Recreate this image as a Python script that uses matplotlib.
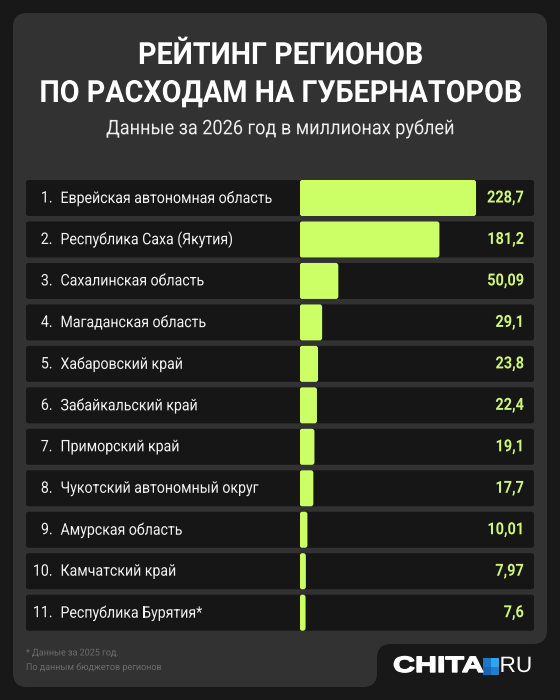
import matplotlib
matplotlib.use("Agg")
import matplotlib.pyplot as plt
from matplotlib.patches import FancyBboxPatch, PathPatch, Rectangle
from matplotlib.path import Path
from matplotlib.patheffects import AbstractPathEffect
from matplotlib.transforms import Affine2D

regions = ["Еврейская автономная область", "Республика Саха (Якутия)", "Сахалинская область",
           "Магаданская область", "Хабаровский край", "Забайкальский край", "Приморский край",
           "Чукотский автономный округ", "Амурская область", "Камчатский край", "Республика Бурятия*"]
values = [228.7, 181.2, 50.09, 29.1, 23.8, 22.4, 19.1, 17.7, 10.01, 7.97, 7.6]
value_labels = ["228,7", "181,2", "50,09", "29,1", "23,8", "22,4", "19,1", "17,7", "10,01", "7,97", "7,6"]

FONT = ['Roboto', 'DejaVu Sans']
LOGO = ['Liberation Sans', 'DejaVu Sans']
BG, PANEL, ROW, BAR, VAL = '#181818', '#323232', '#161616', '#CCFF66', '#CFF57C'
W, H = 560, 700


class Squeeze(AbstractPathEffect):
    """Scale glyph outlines horizontally about a pixel x, for a condensed look."""
    def __init__(self, sx, x0, stroke=0):
        super().__init__()
        self.sx, self.x0, self.stroke = sx, x0, stroke

    def draw_path(self, renderer, gc, tpath, affine, rgbFace=None):
        aff = affine + Affine2D().translate(-self.x0, 0).scale(self.sx, 1).translate(self.x0, 0)
        if self.stroke:
            gc0 = renderer.new_gc()
            gc0.copy_properties(gc)
            gc0.set_foreground(rgbFace)
            gc0.set_linewidth(self.stroke)
            renderer.draw_path(gc0, tpath, aff, rgbFace)
            gc0.restore()
        else:
            renderer.draw_path(gc, tpath, aff, rgbFace)


fig = plt.figure(figsize=(W/100, H/100), dpi=100, facecolor=BG)
bgax = fig.add_axes([0, 0, 1, 1])
bgax.set_xlim(0, W); bgax.set_ylim(H, 0); bgax.axis('off')


def label(x, y, s, sx, color, size, ha='left', weight='normal', family=FONT, stroke=0):
    t = bgax.text(x, y, s, color=color, fontsize=size, fontweight=weight, family=family, ha=ha, va='center')
    t.set_path_effects([Squeeze(sx, x, stroke)])
    return t


# panel outline with the notch for the logo
L, R, T, B, NX, NY, r = 13, 547, 13, 687, 377, 644, 14
verts = [(L+r, T), (R-r, T), (R, T), (R, T+r), (R, NY-r), (R, NY), (R-r, NY), (NX+r, NY), (NX, NY), (NX, NY+r),
         (NX, B-r), (NX, B), (NX-r, B), (L+r, B), (L, B), (L, B-r), (L, T+r), (L, T), (L+r, T), (L+r, T)]
C = Path.CURVE3
codes = [Path.MOVETO, Path.LINETO, C, C, Path.LINETO, C, C, Path.LINETO, C, C,
         Path.LINETO, C, C, Path.LINETO, C, C, Path.LINETO, C, C, Path.CLOSEPOLY]
bgax.add_patch(PathPatch(Path(verts, codes), fc=PANEL, ec='none'))

label(280, 55, "РЕЙТИНГ РЕГИОНОВ", 0.94, 'white', 22, ha='center', weight='bold')
label(280, 93, "ПО РАСХОДАМ НА ГУБЕРНАТОРОВ", 0.94, 'white', 22, ha='center', weight='bold')
label(280, 128.5, "Данные за 2026 год в миллионах рублей", 0.9, '#EDEDED', 14.5, ha='center')
label(26, 653, "* Данные за 2025 год.", 0.95, '#6C6C6C', 6.8)
label(26, 667.5, "По данным бюджетов регионов", 0.95, '#6C6C6C', 6.8)

# logo
label(393, 666.5, "CHITA", 1.37, 'white', 16, weight='bold', family=LOGO, stroke=1.0)
for (x, y, c) in [(483, 658, '#1E78C8'), (491, 658, '#2FA4F0'), (483, 666.5, '#1666B5'), (491, 666.5, '#1E7FD0')]:
    bgax.add_patch(Rectangle((x, y), 8, 8.5, fc=c, ec='none'))
label(499.5, 666.5, "RU", 1.02, 'white', 16, family=LOGO)

# chart axes: 0 at x=299.7 px, 0.771 px per million
STEP, ROW_H, TOP0 = 41.47, 36, 198
X0, PX = 299.7, 0.771
ax_top = TOP0 - STEP/2
ax = fig.add_axes([X0/W, 1 - (ax_top + 11*STEP)/H, (534-X0)/W, 11*STEP/H])
ax.set_xlim(0, (534-X0)/PX); ax.set_ylim(10.5, -0.5); ax.axis('off')
ax.patch.set_alpha(0)
h = ROW_H/STEP
rad = 2.5/PX
aspect = PX/STEP
for i, (name, v, lab) in enumerate(zip(regions, values, value_labels)):
    y = TOP0 + i*STEP
    bgax.add_patch(FancyBboxPatch((26, y-ROW_H/2), 508, ROW_H, boxstyle="round,pad=0,rounding_size=2.5", fc=ROW, ec='none'))
    ax.add_patch(FancyBboxPatch((0, i-h/2), v, h, boxstyle=f"round,pad=0,rounding_size={min(rad, v/2)}",
                                mutation_aspect=aspect, fc=BAR, ec='none'))
    label(52.5, y, f"{i+1}.", 0.885, '#F2F2F2', 11.5, ha='right')
    label(60.5, y, name, 0.885, '#F2F2F2', 11.5)
    label(524, y, lab, 0.87, VAL, 12, ha='right', weight='bold')
fig.savefig('out.png', dpi=100, facecolor=BG)
